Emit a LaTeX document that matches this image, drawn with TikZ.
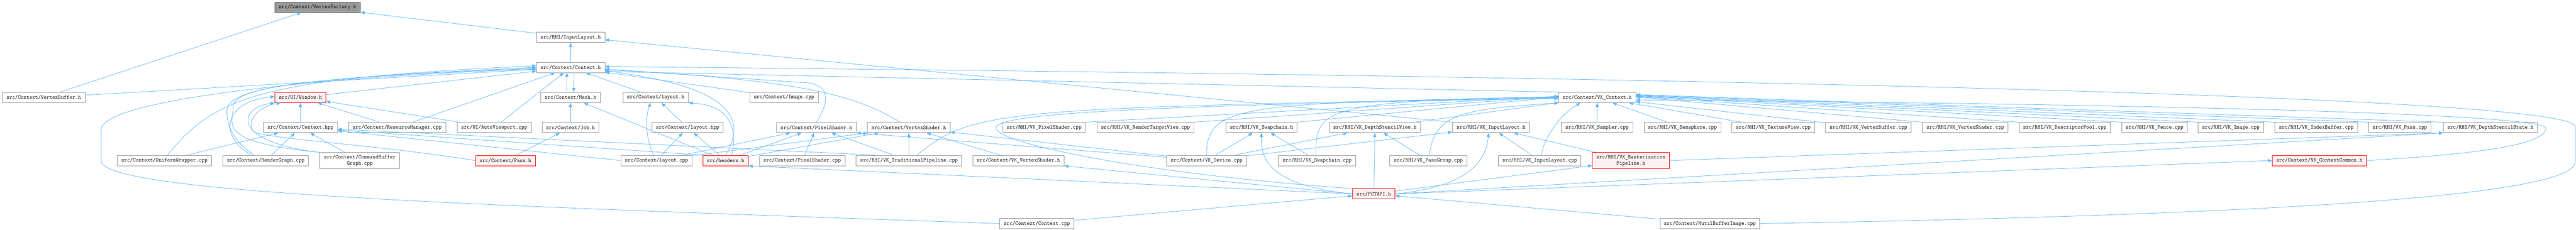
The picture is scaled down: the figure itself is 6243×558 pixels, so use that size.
\documentclass[tikz,border=0pt]{standalone}
\usepackage{fontspec}
\usetikzlibrary{arrows.meta}
\definecolor{edgeblue}{HTML}{63B8FF}
\definecolor{grey60}{HTML}{999999}
\definecolor{grey40}{HTML}{666666}
\definecolor{redfill}{HTML}{FFF0F0}

\begin{document}
\begin{tikzpicture}[x=1pt, y=-1pt,
    font=\ttfamily\fontsize{13.5}{14.3}\selectfont,
    srcfile/.style={draw=grey60, line width=1.1pt, fill=white, minimum height=25pt, inner xsep=9.8pt, inner ysep=6pt, align=center},
    redfile/.style={srcfile, draw=red, fill=redfill},
    rootfile/.style={srcfile, draw=grey40, fill=grey60},
    incl/.style={draw=edgeblue, line width=1pt, -{Triangle[length=10pt,width=8pt]}}]
        \useasboundingbox (0,0) rectangle (6243,558);

        \node[rootfile] (vfac)   at (769.5,17.5)   {src/Context/VertexFactory.h};
        \node[srcfile]  (rhiil)  at (1383,90.5)    {src/RHI/InputLayout.h};
        \node[srcfile]  (ctxh)   at (1383,163.5)   {src/Context/Context.h};

        \node[srcfile]  (vbuf)   at (106,236.5)    {src/Context/VertexBuffer.h};
        \node[redfile]  (win)    at (728,236.5)    {src/UI/Window.h};
        \node[srcfile]  (mesh)   at (1382.5,236.5) {src/Context/Mesh.h};
        \node[srcfile]  (lh)     at (1589,236.5)   {src/Context/layout.h};
        \node[srcfile]  (img)    at (1900,236.5)   {src/Context/Image.cpp};
        \node[srcfile]  (vkctx)  at (3871,236.5)   {src/Context/VK\_Context.h};

        \node[srcfile]  (chpp)   at (728,309.5)    {src/Context/Context.hpp};
        \node[srcfile]  (resm)   at (962.5,309.5)  {src/Context/ResourceManager.cpp};
        \node[srcfile]  (avp)    at (1197.5,309.5) {src/UI/AutoViewport.cpp};
        \node[srcfile]  (job)    at (1382.5,309.5) {src/Context/Job.h};
        \node[srcfile]  (lhpp)   at (1666.5,309.5) {src/Context/layout.hpp};
        \node[srcfile]  (psh)    at (1978.5,309.5) {src/Context/PixelShader.h};
        \node[srcfile]  (vsh)    at (2202.5,309.5) {src/Context/VertexShader.h};
        \node[srcfile]  (vkps)   at (2530.5,309.5) {src/RHI/VK\_PixelShader.cpp};
        \node[srcfile]  (rtv)    at (2776,309.5)   {src/RHI/VK\_RenderTargetView.cpp};
        \node[srcfile]  (vksch)  at (3057.5,309.5) {src/RHI/VK\_Swapchain.h};
        \node[srcfile]  (dsv)    at (3332,309.5)   {src/RHI/VK\_DepthStencilView.h};
        \node[srcfile]  (vkil)   at (3613.5,309.5) {src/RHI/VK\_InputLayout.h};
        \node[srcfile]  (samp)   at (3870.5,309.5) {src/RHI/VK\_Sampler.cpp};
        \node[srcfile]  (sema)   at (4077.5,309.5) {src/RHI/VK\_Semaphore.cpp};
        \node[srcfile]  (texv)   at (4297.5,309.5) {src/RHI/VK\_TextureView.cpp};
        \node[srcfile]  (vkvb)   at (4528,309.5)   {src/RHI/VK\_VertexBuffer.cpp};
        \node[srcfile]  (vkvs)   at (4763,309.5)   {src/RHI/VK\_VertexShader.cpp};
        \node[srcfile]  (dpool)  at (5004,309.5)   {src/RHI/VK\_DescriptorPool.cpp};
        \node[srcfile]  (fence)  at (5221.5,309.5) {src/RHI/VK\_Fence.cpp};
        \node[srcfile]  (vkimg)  at (5406.5,309.5) {src/RHI/VK\_Image.cpp};
        \node[srcfile]  (ibuf)   at (5613.5,309.5) {src/RHI/VK\_IndexBuffer.cpp};
        \node[srcfile]  (vkpass) at (5816,309.5)   {src/RHI/VK\_Pass.cpp};
        \node[srcfile]  (dss)    at (6035.5,309.5) {src/RHI/VK\_DepthStencilState.h};

        \node[srcfile]  (unif)   at (398.5,389.5)  {src/Context/UniformWrapper.cpp};
        \node[srcfile]  (rgraph) at (644,389.5)    {src/Context/RenderGraph.cpp};
        \node[srcfile]  (cbg)    at (872,389.5)    {src/Context/CommandBuffer\\Graph.cpp};
        \node[redfile]  (pass)   at (1225,389.5)   {src/Context/Pass.h};
        \node[srcfile]  (lcpp)   at (1591,389.5)   {src/Context/layout.cpp};
        \node[redfile]  (hdr)    at (1758.5,389.5) {src/headers.h};
        \node[srcfile]  (pscpp)  at (1944,389.5)   {src/Context/PixelShader.cpp};
        \node[srcfile]  (trad)   at (2203,389.5)   {src/RHI/VK\_TraditionalPipeline.cpp};
        \node[srcfile]  (vkvsh)  at (2468,389.5)   {src/Context/VK\_VertexShader.h};
        \node[srcfile]  (vkdev)  at (2924,389.5)   {src/Context/VK\_Device.cpp};
        \node[srcfile]  (vkscc)  at (3192,389.5)   {src/RHI/VK\_Swapchain.cpp};
        \node[srcfile]  (pgrp)   at (3461.5,389.5) {src/RHI/VK\_PassGroup.cpp};
        \node[srcfile]  (vkilc)  at (3731.5,389.5) {src/RHI/VK\_InputLayout.cpp};
        \node[redfile]  (rast)   at (3952.5,389.5) {src/RHI/VK\_Rasterization\\Pipeline.h};
        \node[redfile]  (vkcc)   at (5621,389.5)   {src/Context/VK\_ContextCommon.h};

        \node[redfile]  (fct)    at (3329.5,470.5) {src/FCTAPI.h};

        \node[srcfile]  (ctxcpp) at (2513,542.5)   {src/Context/Context.cpp};
        \node[srcfile]  (mbi)    at (4144,542.5)   {src/Context/MutilBufferImage.cpp};

        \draw[incl] (vbuf) -- (vfac);
        \draw[incl] (rhiil) -- (vfac);
        \draw[incl] (ctxh) -- (rhiil);
        \draw[incl] (vkil.north west) -- ([yshift=-6pt]rhiil.east);

        \draw[incl] (vbuf) -- (ctxh);
        \draw[incl] (win) -- (ctxh);
        \draw[incl] (resm) -- (ctxh);
        \draw[incl] (avp) -- (ctxh);
        \draw[incl] (lh) -- (ctxh);
        \draw[incl] (img) -- (ctxh);
        \draw[incl] ([xshift=-9pt]mesh.north) -- ([xshift=-9pt]ctxh.south);
        \draw[incl] ([xshift=8pt]ctxh.south) -- ([xshift=8pt]mesh.north);
        \draw[incl] (vkctx.north west) -- ([yshift=-10pt]ctxh.east);
        \draw[incl] ([xshift=8pt]unif.north) .. controls (520,230) and (650,190) .. ([yshift=4pt]ctxh.west);
        \draw[incl] ([xshift=-27pt]rgraph.north) .. controls (560,340) and (550,300) .. (550,270) .. controls (550,215) and (700,190) .. (ctxh.west);
        \draw[incl] (cbg.north west) .. controls (520,345) and (565,300) .. (565,260) .. controls (565,215) and (700,190) .. ([yshift=-2pt]ctxh.west);
        \draw[incl] (ctxcpp.west) .. controls (1200,500) and (245,470) .. (245,390) -- (245,315) .. controls (245,240) and (800,185) .. ([yshift=-4pt]ctxh.west);
        \draw[incl] (mbi.east) .. controls (5600,520) and (6241,470) .. (6241,393) -- (6241,307) .. controls (6241,240) and (4500,190) .. ([yshift=2pt]ctxh.east);
        \draw[incl] (hdr.north) .. controls (1815,280) and (1760,210) .. ([yshift=-8pt]ctxh.east);
        \draw[incl] (psh.north) .. controls (2015,240) and (2010,200) .. (1940,200) -- ([yshift=-4pt]ctxh.east);
        \draw[incl] ([xshift=-20pt]vsh.north) .. controls (2090,245) and (2000,195) .. ([yshift=-6pt]ctxh.east);

        \draw[incl] (job) -- (mesh);
        \draw[incl] (hdr) -- (mesh);
        \draw[incl] (lhpp) -- (lh);
        \draw[incl] ([xshift=-7pt]lcpp.north) .. controls (1562,330) and (1565,280) .. ([xshift=-12pt]lh.south);
        \draw[incl] ([xshift=15pt]hdr.north) .. controls (1790,300) and (1760,255) .. (lh.south east);

        \draw[incl] (chpp) -- (win);
        \draw[incl] (resm) -- (win);
        \draw[incl] (avp) -- (win);
        \draw[incl] ([xshift=-34pt]rgraph.north) .. controls (525,330) and (545,245) .. ([yshift=2pt]win.west);
        \draw[incl] (cbg.north west) .. controls (560,345) and (575,262) .. (win.south west);
        \draw[incl] (pass.west) .. controls (900,350) and (700,342) .. (620,322) .. controls (598,316) and (605,262) .. ([xshift=-47pt]win.south);

        \draw[incl] (unif) -- (chpp);
        \draw[incl] (rgraph) -- (chpp);
        \draw[incl] (cbg) -- (chpp);
        \draw[incl] (lcpp.west) -- ([yshift=-8pt]chpp.east);
        \draw[incl] (hdr.north west) -- ([yshift=-6pt]chpp.east);
        \draw[incl] ([xshift=-83pt]trad.north) -- ([yshift=-4pt]chpp.east);
        \draw[incl] (pass) -- (job);

        \draw[incl] (lcpp) -- (lhpp);
        \draw[incl] (hdr) -- (lhpp);
        \draw[incl] (lcpp) -- (psh);
        \draw[incl] (lcpp) -- (vsh);
        \draw[incl] (hdr) -- (psh);
        \draw[incl] (hdr) -- (vsh);
        \draw[incl] (pscpp) -- (psh);
        \draw[incl] (trad) -- (psh);
        \draw[incl] (trad) -- (vsh);
        \draw[incl] (vkvsh) -- (vsh);
        \draw[incl] (vkdev) -- (vsh);
        \draw[incl] ([yshift=8pt]vkdev.west) -- (psh.south east);

        \draw[incl] ([xshift=19pt]trad.north) .. controls (2360,265) and (2420,262) .. ([yshift=-1pt]vkctx.west);
        \draw[incl] (vkdev.north) .. controls (2925,255) and (3000,250) .. ([yshift=1pt]vkctx.west);
        \draw[incl] (vkdev) -- (vksch);
        \draw[incl] (vkdev) -- (dsv);
        \draw[incl] (vkdev) -- (vkil);
        \draw[incl] (vkscc) -- (vksch);
        \draw[incl] ([xshift=-3pt]vkscc.north) .. controls (3188,265) and (3205,245) .. ([yshift=2pt]vkctx.west);
        \draw[incl] (pgrp) -- (dsv);
        \draw[incl] ([xshift=3pt]pgrp.north) .. controls (3475,270) and (3560,265) .. (vkctx.south west);
        \draw[incl] (vkilc) -- (vkil);
        \draw[incl] ([xshift=3pt]vkilc.north) .. controls (3745,330) and (3780,280) .. ([xshift=-41pt]vkctx.south);
        \draw[incl] (rast) -- (vkil);
        \draw[incl] (rast.east) -- (dss.south west);

        \draw[incl] (vkps.north east) -- ([yshift=3pt]vkctx.west);
        \draw[incl] (rtv.north east) -- ([yshift=2pt]vkctx.west);
        \draw[incl] (vksch.north east) -- ([yshift=1pt]vkctx.west);
        \draw[incl] (dsv) -- (vkctx);
        \draw[incl] (samp) -- (vkctx);
        \draw[incl] (sema) -- (vkctx);
        \draw[incl] (texv) -- (vkctx);
        \draw[incl] (vkvb) -- (vkctx);
        \draw[incl] (vkvs.north west) -- ([yshift=1pt]vkctx.east);
        \draw[incl] (dpool.north west) -- ([yshift=2pt]vkctx.east);
        \draw[incl] (fence.north west) -- ([yshift=3pt]vkctx.east);
        \draw[incl] (vkimg.north west) -- ([yshift=4pt]vkctx.east);
        \draw[incl] (ibuf.north west) -- ([yshift=5pt]vkctx.east);
        \draw[incl] (vkpass.north west) -- ([yshift=6pt]vkctx.east);
        \draw[incl] (dss.north west) -- ([yshift=7pt]vkctx.east);
        \draw[incl] (vkcc.east) .. controls (6050,372) and (6170,345) .. (6170,311) .. controls (6170,282) and (5500,255) .. ([yshift=-6pt]vkctx.east);

        \draw[incl] (fct.west) -- (hdr.south east);
        \draw[incl] (fct.west) -- (vkvsh.south east);
        \draw[incl] (fct.west) .. controls (3080,450) and (3055,390) .. (vksch.south);
        \draw[incl] (fct) -- (dsv);
        \draw[incl] (fct.east) .. controls (3530,455) and (3600,410) .. ([xshift=-6pt]vkil.south);
        \draw[incl] (fct) -- (rast);
        \draw[incl] (fct.east) -- (dss.south west);
        \draw[incl] (fct.east) -- (vkcc.west);
        \draw[incl] (fct.north west) .. controls (2800,425) and (2414,350) .. (2414,310) .. controls (2414,270) and (2900,255) .. ([yshift=-2pt]vkctx.west);
        \draw[incl] (ctxcpp) -- (fct);
        \draw[incl] (mbi) -- (fct);
      \end{tikzpicture}
\end{document}
